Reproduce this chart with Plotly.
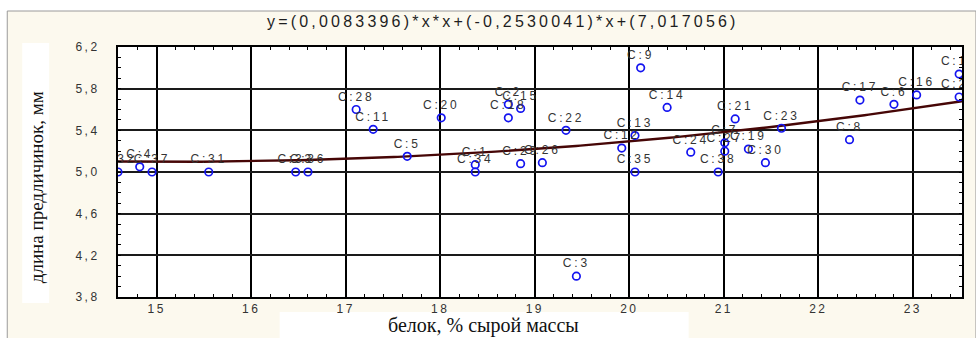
import numpy as np
import plotly.graph_objects as go

# Protein content (% of wet mass) vs. prelarva length (mm), case labels C:n
protein = [14.59, 14.82, 14.95, 15.55, 16.47, 16.60, 17.11, 17.29, 17.65, 18.01,
           18.37, 18.37, 18.72, 18.72, 18.85, 18.85, 19.08, 19.33, 19.44, 19.92,
           20.06, 20.06, 20.12, 20.40, 20.65, 20.94, 21.01, 21.01, 21.12, 21.26,
           21.44, 21.61, 22.33, 22.44, 22.80, 23.04, 23.49, 23.49]
length = [5.00, 5.05, 5.00, 5.00, 5.00, 5.00, 5.60, 5.41, 5.15, 5.52,
          5.07, 5.00, 5.65, 5.52, 5.61, 5.08, 5.09, 5.40, 4.00, 5.23,
          5.35, 5.00, 6.00, 5.62, 5.19, 5.00, 5.28, 5.20, 5.51, 5.22,
          5.09, 5.42, 5.31, 5.69, 5.65, 5.74, 5.94, 5.72]
case_labels = ["C:32", "C:4", "C:37", "C:31", "C:33", "C:36", "C:28", "C:11", "C:5", "C:20",
               "C:1", "C:34", "C:2", "C:18", "C:15", "C:29", "C:26", "C:22", "C:3", "C:12",
               "C:13", "C:35", "C:9", "C:14", "C:24", "C:38", "C:7", "C:27", "C:21", "C:19",
               "C:30", "C:23", "C:8", "C:17", "C:6", "C:16", "C:10", "C:25"]

# Quadratic fit coefficients
a2, a1, a0 = 0.0083396, -0.2530041, 7.017056
title_text = "y=(0,0083396)*x*x+(-0,2530041)*x+(7,017056)"

x_ticks = [15, 16, 17, 18, 19, 20, 21, 22, 23]
x_tick_labels = ["15", "16", "17", "18", "19", "20", "21", "22", "23"]
y_ticks = [3.8, 4.2, 4.6, 5.0, 5.4, 5.8, 6.2]
y_tick_labels = ["3,8", "4,2", "4,6", "5,0", "5,4", "5,8", "6,2"]

x_range = [14.59, 23.52]
y_range = [3.8, 6.2]

W, H = 976, 338
ML, MR, MT, MB = 118, 12, 47, 41
PW, PH = W - ML - MR, H - MT - MB


def px(xpix):
    return (xpix - ML) / PW


def py(ypix):
    return (H - MB - ypix) / PH


def spaced(s, sp):
    return f'<span style="letter-spacing:{sp}px">{s}</span>'


SANS = "Liberation Sans, Arial, sans-serif"
SERIF = "Liberation Serif, Times New Roman, serif"

cx = np.linspace(x_range[0], x_range[1], 200)
cy = a2 * cx * cx + a1 * cx + a0

fig = go.Figure()
fig.add_trace(go.Scatter(
    x=cx, y=cy, mode="lines",
    line=dict(color="#460606", width=2.4),
    hoverinfo="skip", showlegend=False,
))
fig.add_trace(go.Scatter(
    x=protein, y=length, mode="markers+text",
    text=[spaced(t, 2.8) for t in case_labels],
    textposition="top center",
    textfont=dict(family=SANS, size=12, color="#333333"),
    marker=dict(symbol="circle-open", size=7.5, color="#1414f0", line=dict(width=1.7)),
    cliponaxis=True, showlegend=False,
))

shapes = [
    # cream panel with a grey frame
    dict(type="rect", xref="paper", yref="paper", layer="below",
         x0=px(7), x1=px(W + 2), y0=py(H + 2), y1=py(11),
         fillcolor="#fcf9ee", line=dict(color="#9a9a9a", width=1)),
    # white plotting area
    dict(type="rect", xref="paper", yref="paper", layer="below",
         x0=0, x1=1, y0=0, y1=1, fillcolor="white", line=dict(width=0)),
    # white boxes behind the axis titles
    dict(type="rect", xref="paper", yref="paper", layer="below",
         x0=px(22), x1=px(49), y0=py(303), y1=py(43),
         fillcolor="white", line=dict(width=0)),
    dict(type="rect", xref="paper", yref="paper", layer="below",
         x0=px(280), x1=px(690), y0=py(H + 2), y1=py(312),
         fillcolor="white", line=dict(width=0)),
]

annotations = [
    dict(text=spaced(title_text, 3.2), xref="paper", yref="paper",
         x=px(504), y=py(22), showarrow=False, xanchor="center", yanchor="middle",
         font=dict(family=SANS, size=16, color="#1e1e1e")),
    dict(text="длина предличинок, мм", xref="paper", yref="paper",
         x=px(36), y=py(187), showarrow=False, textangle=-90,
         xanchor="center", yanchor="middle",
         font=dict(family=SERIF, size=19, color="#111111")),
    dict(text="белок, % сырой массы", xref="paper", yref="paper",
         x=px(484), y=py(325), showarrow=False, xanchor="center", yanchor="middle",
         font=dict(family=SERIF, size=20, color="#111111")),
]

fig.update_layout(
    width=W, height=H,
    margin=dict(l=ML, r=MR, t=MT, b=MB, pad=0),
    paper_bgcolor="white", plot_bgcolor="white",
    separators=", ",
    shapes=shapes, annotations=annotations,
    showlegend=False,
)
fig.update_xaxes(
    range=x_range, tickmode="array", tickvals=x_ticks,
    ticktext=[spaced(t, 2.5) for t in x_tick_labels],
    tickfont=dict(family=SANS, size=12, color="#333333"),
    showgrid=True, gridcolor="#000000", gridwidth=2, zeroline=False,
    showline=True, linecolor="#000000", linewidth=2, mirror="ticks",
    ticks="inside", ticklen=0, tickcolor="#000000",
    minor=dict(dtick=0.2, tick0=15, ticks="inside", ticklen=3,
               tickcolor="#000000", tickwidth=1, showgrid=False),
)
fig.update_yaxes(
    range=y_range, tickmode="array", tickvals=y_ticks,
    ticktext=[spaced(t, 2.5) for t in y_tick_labels],
    tickfont=dict(family=SANS, size=12, color="#333333"),
    showgrid=True, gridcolor="#1a1a1a", gridwidth=1.5, zeroline=False,
    showline=True, linecolor="#000000", linewidth=2, mirror="ticks",
    ticks="inside", ticklen=0, tickcolor="#000000", ticklabelstandoff=14,
    minor=dict(dtick=0.1, tick0=3.8, ticks="inside", ticklen=3,
               tickcolor="#000000", tickwidth=1, showgrid=False),
)

fig.write_html("out.html")
